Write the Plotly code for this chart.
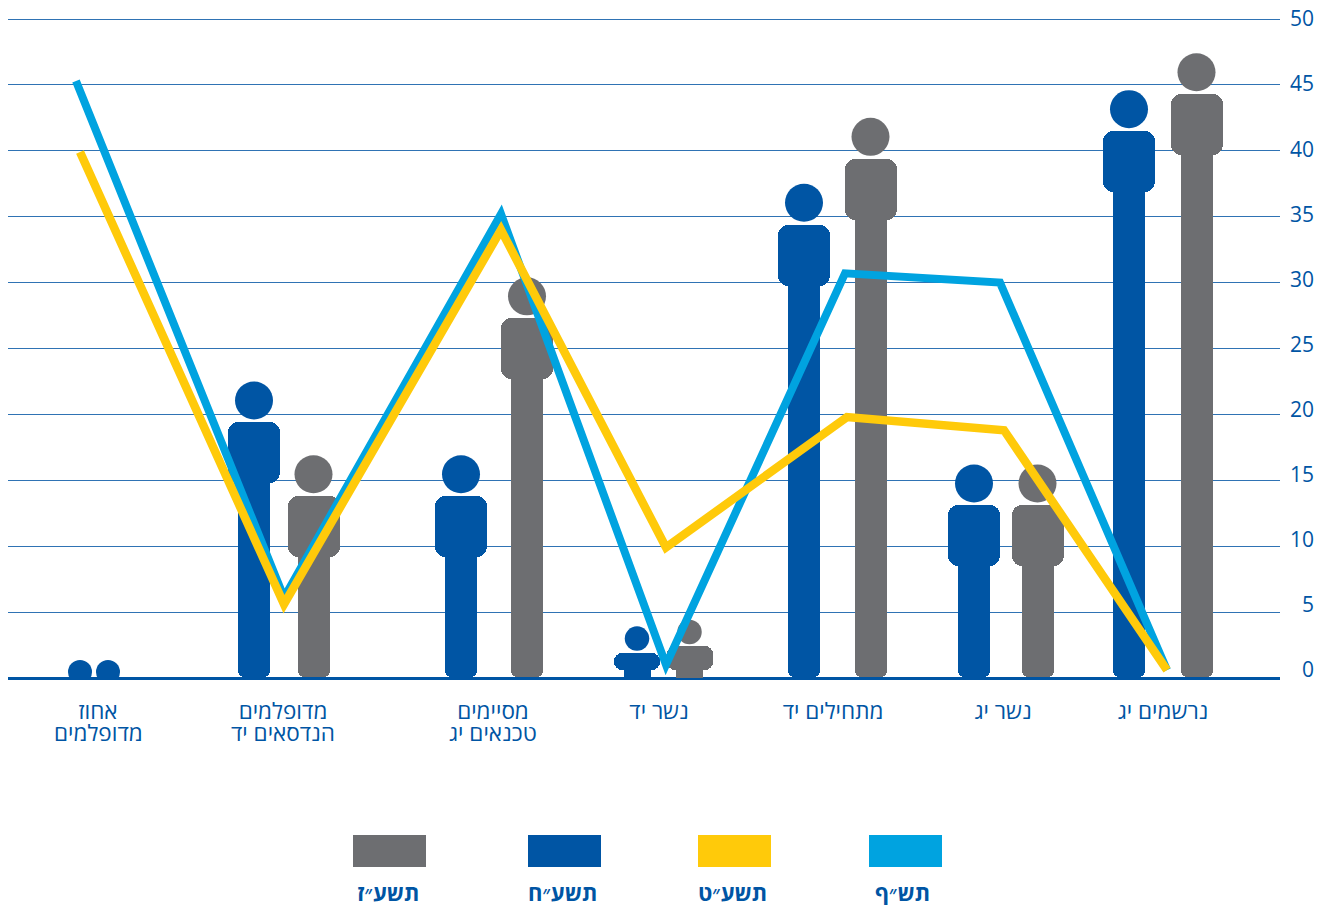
import plotly.graph_objects as go

# ---- data ----
label_first = ["אחוז", "מדופלמים", "מסיימים", "נשר יד", "מתחילים יד", "נשר יג", "נרשמים יג"]
label_second = ["מדופלמים", "הנדסאים יד", "טכנאים יג", "", "", "", ""]
legend_names = ["תשע״ז", "תשע״ח", "תשע״ט", "תש״ף"]

# height of each figure (top of head)
figure_tsh_b = [1.37, 22.5, 16.9, 3.9, 37.5, 16.2, 44.6]   # second figure per group, dark blue
figure_tsh_z = [1.37, 16.9, 30.4, 4.4, 42.5, 16.2, 47.4]   # gray (first group: head only, blue)
line_tshf = [45.3, 6.1, 35.2, 1.0, 30.7, 30.0, 0.6]
line_tsht = [39.9, 5.6, 34.0, 9.9, 19.8, 18.8, 0.6]
y_ticks = [0, 5, 10, 15, 20, 25, 30, 35, 40, 45, 50]

# ---- horizontal layout (x axis is in page pixels, slots are unevenly spaced) ----
label_x = [98, 283, 493, 659, 833, 1003, 1163]
blue_x = [80, 254, 461, 637, 804, 974, 1129]
gray_x = [108, 313.5, 527, 689.5, 870.5, 1037.5, 1196.5]
tshf_x = [76, 284, 501, 666, 845, 1000, 1167]
tsht_x = [80, 284, 501, 666, 847, 1004, 1167]
legend_x = [353, 528, 698, 869]
legend_text_x = [388, 562, 732, 902]

NAVY = "#0055a4"
GRAY = "#6d6e71"
YELLOW = "#ffca0a"
CYAN = "#00a3e0"
FONT = "Open Sans"

W, H = 1328, 905
Y50, Y0 = 19, 678          # page pixels of value 50 and value 0
PLOT_TOP, PLOT_BOTTOM = 17, 679
LEFT, RIGHT = 8, 1280
K = (Y0 - Y50) / 50.0      # pixels per value unit


def px(p):
    return p / K


def pap(y):
    return 1 - (y - PLOT_TOP) / (PLOT_BOTTOM - PLOT_TOP)


fig = go.Figure()


def add_people(xs, tops, color):
    full = [(x, t) for x, t in zip(xs, tops) if t > 8]
    small = [(x, t) for x, t in zip(xs, tops) if 2 < t <= 8]
    dots = [(x, t) for x, t in zip(xs, tops) if t <= 2]
    common = dict(marker_line_width=0, hoverinfo="skip", showlegend=False)
    if full:
        fx = [p[0] for p in full]
        ft = [p[1] for p in full]
        fig.add_bar(x=fx, y=[t - px(41 + 30) - px(1) for t in ft], base=px(1), width=32,
                    marker=dict(color=color, cornerradius=6), **common)
        fig.add_bar(x=fx, y=[px(61)] * len(ft), base=[t - px(102) for t in ft], width=52,
                    marker=dict(color=color, cornerradius=10), **common)
        fig.add_scatter(x=fx, y=[t - px(19) for t in ft], mode="markers",
                        marker=dict(color=color, size=38, line_width=0),
                        hoverinfo="skip", showlegend=False)
    if small:
        sx = [p[0] for p in small]
        st = [p[1] for p in small]
        fig.add_bar(x=sx, y=[px(12)] * len(st), base=0, width=27,
                    marker=dict(color=color, cornerradius=0), **common)
        fig.add_bar(x=sx, y=[t - px(26) - px(8.5) for t in st], base=px(8.5), width=46,
                    marker=dict(color=color, cornerradius=8), **common)
        fig.add_scatter(x=sx, y=[t - px(12) for t in st], mode="markers",
                        marker=dict(color=color, size=24.5, line_width=0),
                        hoverinfo="skip", showlegend=False)
    if dots:
        fig.add_scatter(x=[p[0] for p in dots], y=[p[1] - px(12) for p in dots], mode="markers",
                        marker=dict(color=NAVY, size=24, line_width=0),
                        hoverinfo="skip", showlegend=False)


add_people(blue_x, figure_tsh_b, NAVY)
add_people(gray_x, figure_tsh_z, GRAY)

fig.add_scatter(x=tshf_x, y=line_tshf, mode="lines", line=dict(color=CYAN, width=8),
                hoverinfo="skip", showlegend=False)
fig.add_scatter(x=tsht_x, y=line_tsht, mode="lines", line=dict(color=YELLOW, width=8.5),
                hoverinfo="skip", showlegend=False)
# carrier for the value-label axis
fig.add_scatter(x=[RIGHT], y=[0], yaxis="y2", mode="markers", marker=dict(opacity=0),
                hoverinfo="skip", showlegend=False)

annotations = []
for x, s in zip(label_x, label_second):
    if s:
        annotations.append(dict(x=x, y=pap(732), xref="x", yref="paper", text=s, showarrow=False,
                                xanchor="center", yanchor="middle",
                                font=dict(family=FONT, size=22.5, color=NAVY)))
shapes = []
for x, tx, name, col in zip(legend_x, legend_text_x, legend_names, [GRAY, NAVY, YELLOW, CYAN]):
    shapes.append(dict(type="rect", xref="x", yref="paper", x0=x, x1=x + 73,
                       y0=pap(867), y1=pap(835), fillcolor=col, line_width=0))
    annotations.append(dict(x=tx, y=pap(892), xref="x", yref="paper", text="<b>%s</b>" % name,
                            showarrow=False, xanchor="center", yanchor="middle",
                            font=dict(family=FONT, size=22, color=NAVY)))

plot_w = W - LEFT
LABEL_K = 13.02            # the printed value labels are spaced slightly tighter than the gridlines
LABEL_Y0 = 670
fig.update_layout(
    width=W, height=H, autosize=False,
    margin=dict(l=LEFT, r=0, t=PLOT_TOP, b=H - PLOT_BOTTOM, pad=0),
    paper_bgcolor="white", plot_bgcolor="white",
    barmode="overlay", bargap=0, showlegend=False,
    font=dict(family=FONT, color=NAVY),
    xaxis=dict(domain=[0, (RIGHT - LEFT) / plot_w], range=[LEFT, RIGHT], showgrid=False, zeroline=False,
               showline=False,
               tickmode="array", tickvals=label_x, ticktext=label_first,
               ticks="outside", ticklen=12, tickcolor="rgba(0,0,0,0)",
               tickfont=dict(family=FONT, size=22.5, color=NAVY), fixedrange=True),
    yaxis=dict(range=[-(PLOT_BOTTOM - Y0) / K, 50 + (Y50 - PLOT_TOP) / K],
               tickmode="array", tickvals=y_ticks, showticklabels=False,
               showgrid=True, gridcolor="#2f73b4", gridwidth=1,
               zeroline=True, zerolinecolor=NAVY, zerolinewidth=2.5, showline=False,
               ticks="", fixedrange=True),
    yaxis2=dict(overlaying="y", side="left", anchor="free", position=(1314 - LEFT) / plot_w,
                range=[(LABEL_Y0 - PLOT_BOTTOM) / LABEL_K, (LABEL_Y0 - PLOT_TOP) / LABEL_K],
                tickmode="array", tickvals=y_ticks, ticktext=[str(v) for v in y_ticks],
                showgrid=False, zeroline=False, showline=False, ticks="",
                tickfont=dict(family=FONT, size=21, color=NAVY), fixedrange=True),
    annotations=annotations, shapes=shapes,
)

post = """
document.body.style.margin='0';
document.documentElement.style.overflow='hidden';
document.querySelectorAll('.js-line').forEach(function(p){p.style.strokeMiterlimit='12';});
"""
fig.write_html("out.html", config={"displayModeBar": False}, post_script=post)
